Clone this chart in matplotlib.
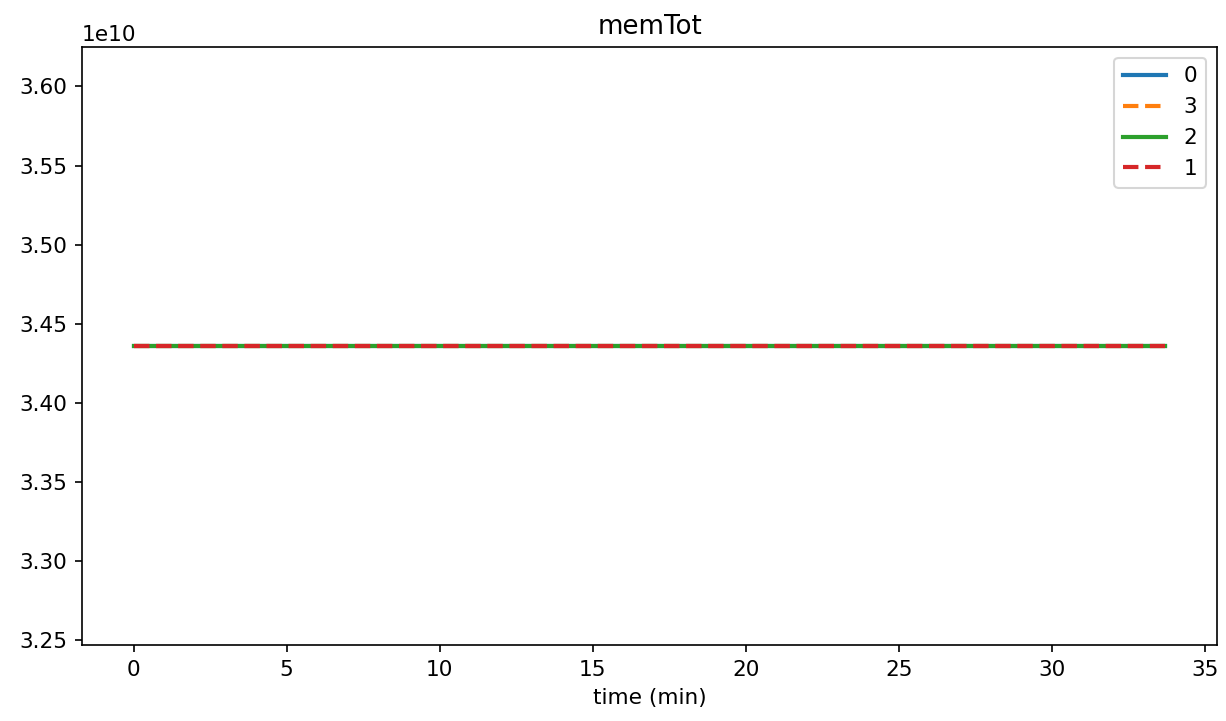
import matplotlib
matplotlib.use("Agg")
import matplotlib.pyplot as plt

plt.rcParams["font.size"] = 10.4

# time samples (minutes)
time_min = [0.0, 2.5, 5.0, 7.5, 10.0, 12.5, 15.0, 17.5, 20.0, 22.5, 25.0, 27.5, 30.0, 32.5, 33.7]
series_labels = ["0", "3", "2", "1"]
mem_0 = [34359738368] * 15
mem_3 = [34359738368] * 15
mem_2 = [34359738368] * 15
mem_1 = [34359738368] * 15
series_values = [mem_0, mem_3, mem_2, mem_1]

colors = ["#1f77b4", "#ff7f0e", "#2ca02c", "#d62728"]
styles = ["-", "--", "-", "--"]

fig, ax = plt.subplots(figsize=(1226 / 150, 721 / 150), dpi=150)
fig.subplots_adjust(left=82 / 1226, right=1217 / 1226, top=1 - 47 / 721, bottom=1 - 645 / 721)

for lab, vals, c, ls in zip(series_labels, series_values, colors, styles):
    ax.plot(time_min, vals, color=c, linestyle=ls, linewidth=2, label=lab)

ax.set_title("memTot")
ax.set_xlabel("time (min)")
ax.legend(loc="upper right")

fig.savefig("out.png", dpi=150)
